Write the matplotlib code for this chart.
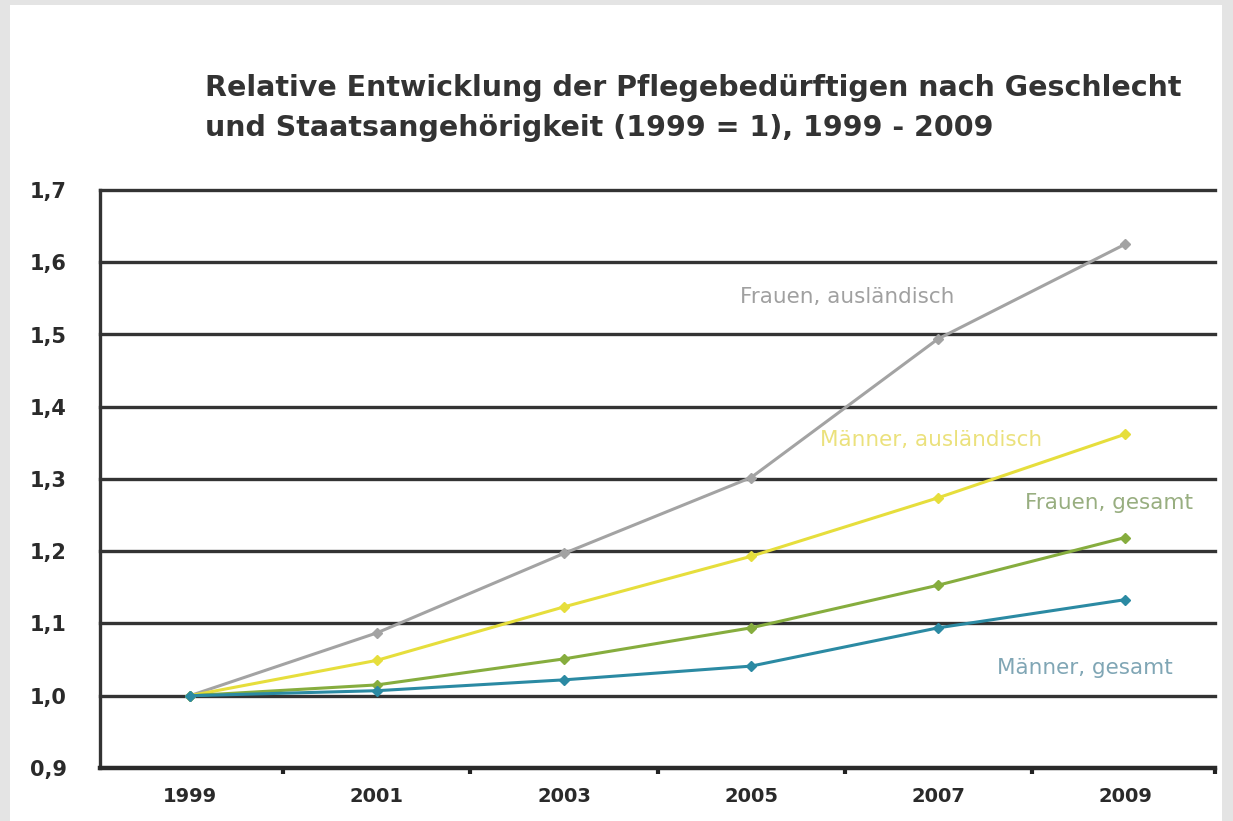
import matplotlib.pyplot as plt
from matplotlib.patches import Rectangle
from matplotlib.ticker import FixedLocator, FuncFormatter

# Daten (1999 = 1)
jahre = [1999, 2001, 2003, 2005, 2007, 2009]
frauen_auslaendisch = [1.0, 1.087, 1.197, 1.302, 1.494, 1.625]
maenner_auslaendisch = [1.0, 1.049, 1.123, 1.193, 1.274, 1.362]
frauen_gesamt = [1.0, 1.015, 1.051, 1.094, 1.153, 1.219]
maenner_gesamt = [1.0, 1.007, 1.022, 1.041, 1.094, 1.133]

# name, werte, linienfarbe, label-position, textfarbe
serien = [
    ("Frauen, ausländisch", frauen_auslaendisch, "#a3a3a3", (2004.88, 1.552), "#a0a0a0"),
    ("Männer, ausländisch", maenner_auslaendisch, "#e6de3c", (2005.74, 1.354), "#ebe17c"),
    ("Frauen, gesamt", frauen_gesamt, "#86ad3e", (2007.93, 1.267), "#98ae80"),
    ("Männer, gesamt", maenner_gesamt, "#2b8aa3", (2007.63, 1.038), "#80a6b5"),
]

fig = plt.figure(figsize=(12.33, 8.21), dpi=100, facecolor="#e4e4e4")
fig.patches.append(Rectangle((10 / 1233, 0), 1212 / 1233, 816 / 821,
                             transform=fig.transFigure, facecolor="white",
                             edgecolor="none", zorder=-5))

ax = fig.add_axes([100 / 1233, 53 / 821, 1115 / 1233, 578 / 821])
ax.set_facecolor("white")

# Gitterlinien
for y in [1.0, 1.1, 1.2, 1.3, 1.4, 1.5, 1.6, 1.7]:
    ax.axhline(y, color="#333333", lw=2.4, zorder=1, clip_on=False)

for name, werte, farbe, pos, textfarbe in serien:
    ax.plot(jahre, werte, color=farbe, lw=2.2, marker="D", ms=5, zorder=3)
    ax.text(pos[0], pos[1], name, color=textfarbe, fontsize=15.5,
            ha="left", va="center", family="DejaVu Sans")

ax.set_xlim(1998.04, 2009.96)
ax.set_ylim(0.9, 1.7)

ax.xaxis.set_major_locator(FixedLocator(jahre))
ax.xaxis.set_minor_locator(FixedLocator([2000, 2002, 2004, 2006, 2008, 2009.96]))
ax.yaxis.set_major_locator(FixedLocator([0.9, 1.0, 1.1, 1.2, 1.3, 1.4, 1.5, 1.6, 1.7]))
ax.yaxis.set_major_formatter(FuncFormatter(lambda v, p: f"{v:.1f}".replace(".", ",")))

ax.tick_params(axis="x", which="major", length=0, pad=14, labelsize=14, labelcolor="#2a2a2a")
ax.tick_params(axis="x", which="minor", length=4, width=3, color="#222222", direction="out")
ax.tick_params(axis="y", length=0, pad=24, labelsize=15, labelcolor="#2a2a2a")
for lab in ax.get_xticklabels() + ax.get_yticklabels():
    lab.set_fontweight("bold")

for s in ["top", "right"]:
    ax.spines[s].set_visible(False)
ax.spines["left"].set_linewidth(2.4)
ax.spines["left"].set_color("#333333")
ax.spines["bottom"].set_linewidth(3.2)
ax.spines["bottom"].set_color("#2a2a2a")

fig.text(205 / 1233, 1 - 88 / 821, "Relative Entwicklung der Pflegebedürftigen nach Geschlecht",
         fontsize=20.5, fontweight="bold", color="#333333", va="center", ha="left")
fig.text(205 / 1233, 1 - 128 / 821, "und Staatsangehörigkeit (1999 = 1), 1999 - 2009",
         fontsize=20.5, fontweight="bold", color="#333333", va="center", ha="left")

fig.savefig("out.png", dpi=100, facecolor=fig.get_facecolor())
